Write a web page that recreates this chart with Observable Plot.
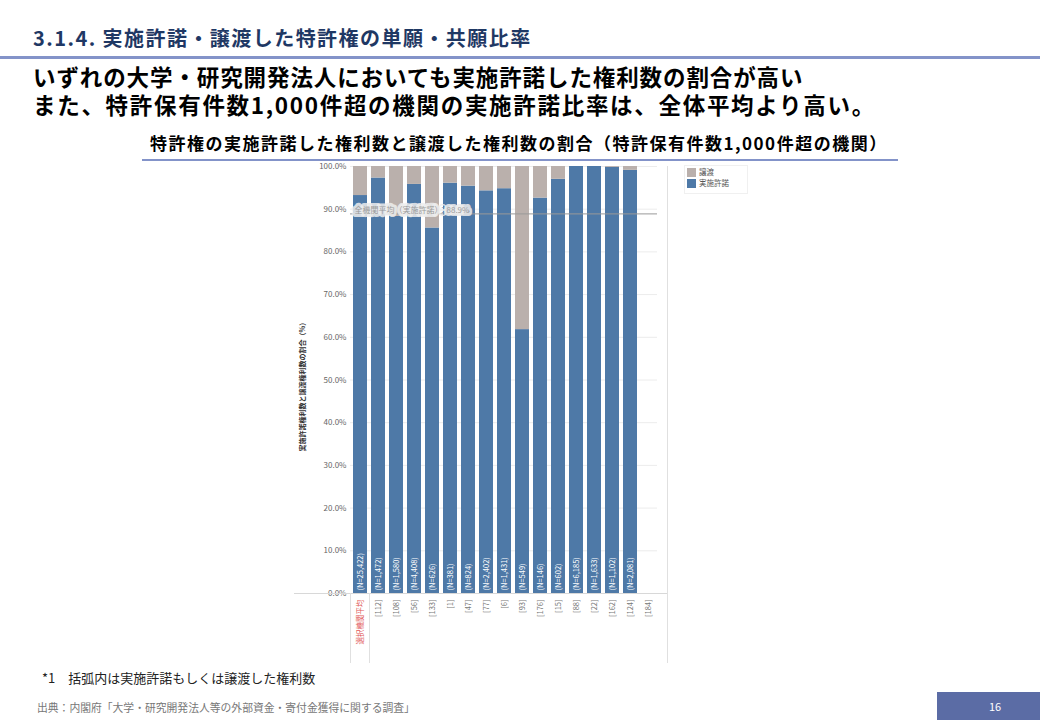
<!DOCTYPE html>
<html><head><meta charset="utf-8">
<script src="https://cdn.jsdelivr.net/npm/d3@7"></script>
<script src="https://cdn.jsdelivr.net/npm/@observablehq/plot@0.6"></script>
<style>
body{margin:0;background:#fff;font-family:"Noto Sans CJK JP","Noto Sans",sans-serif;}
#page{position:relative;width:1040px;height:720px;overflow:hidden;background:#fff;}
.abs{position:absolute;white-space:nowrap;}
#chart{position:absolute;left:290px;top:160px;}
#chart svg{overflow:visible;font-family:"Noto Sans CJK JP","Liberation Sans",sans-serif;}
</style></head>
<body><div id="page">
<div class="abs" style="left:33px;top:25px;font-size:20px;font-weight:bold;color:#1f3864;line-height:26px;letter-spacing:1.45px;">3.1.4. 実施許諾・譲渡した特許権の単願・共願比率</div>
<div class="abs" style="left:0;top:56px;width:1040px;height:3px;background:#8393c9;"></div>
<div class="abs" style="left:33px;top:63px;font-size:22.5px;font-weight:bold;color:#000;line-height:26px;letter-spacing:0.9px;">いずれの大学・研究開発法人においても実施許諾した権利数の割合が高い</div>
<div class="abs" style="left:33px;top:91px;font-size:22.5px;font-weight:bold;color:#000;line-height:26px;letter-spacing:1.7px;">また、特許保有件数1,000件超の機関の実施許諾比率は、全体平均より高い。</div>
<div class="abs" style="left:150px;top:130px;font-size:17px;font-weight:bold;color:#000;line-height:26px;letter-spacing:1.5px;">特許権の実施許諾した権利数と譲渡した権利数の割合（特許保有件数1,000件超の機関）</div>
<div class="abs" style="left:142px;top:159px;width:756px;height:2px;background:#8393c9;"></div>
<div id="chart"></div>
<div class="abs" style="left:294px;top:593px;width:373px;height:1px;background:#d8d8d8;"></div>
<div class="abs" style="left:350px;top:593px;width:1px;height:70px;background:#e0e0e0;"></div>
<div class="abs" style="left:369px;top:593px;width:1px;height:70px;background:#e0e0e0;"></div>
<div class="abs" style="left:667px;top:166px;width:1px;height:497px;background:#e0e0e0;"></div>
<div class="abs" style="left:684px;top:165px;width:62px;height:27px;border:1px solid #f0f0f0;"></div>
<div class="abs" style="left:687px;top:168px;width:9px;height:9px;background:#bab0ac;"></div>
<div class="abs" style="left:699px;top:165px;font-size:7.5px;color:#555;line-height:14px;">譲渡</div>
<div class="abs" style="left:687px;top:179px;width:9px;height:9px;background:#4e79a7;"></div>
<div class="abs" style="left:699px;top:176px;font-size:7.5px;color:#555;line-height:14px;">実施許諾</div>
<div class="abs" style="left:42px;top:669px;font-size:13px;color:#222;line-height:18px;">*1　括弧内は実施許諾もしくは譲渡した権利数</div>
<div class="abs" style="left:37px;top:699px;font-size:10.8px;color:#777;line-height:16px;">出典：内閣府「大学・研究開発法人等の外部資金・寄付金獲得に関する調査」</div>
<div class="abs" style="left:937px;top:692px;width:103px;height:28px;background:#5b6ca5;"></div>
<div class="abs" style="left:937px;top:692px;width:116px;height:28px;text-align:center;font-size:11px;color:#fff;line-height:28px;">16</div>
</div>
<script>
const categories = ["選択機関平均","[112]","[108]","[56]","[133]","[1]","[47]","[77]","[6]","[93]","[176]","[15]","[88]","[22]","[162]","[124]","[184]"];
const licensePct = [93.2, 97.3, 88.3, 95.8, 85.6, 96.1, 95.4, 94.3, 94.8, 61.8, 92.6, 97.0, 100, 100, 99.8, 99.1, null];
const nLabels = ["(N=25,422)","(N=1,472)","(N=1,580)","(N=4,408)","(N=626)","(N=381)","(N=824)","(N=2,402)","(N=1,431)","(N=549)","(N=146)","(N=602)","(N=6,185)","(N=1,633)","(N=1,102)","(N=2,081)",""];
const seriesNames = ["実施許諾","譲渡"];
const seriesColors = ["#4e79a7","#bab0ac"];
const yTicks = [0,10,20,30,40,50,60,70,80,90,100];
const allAverage = 88.9;
const refLabel = "全機関平均（実施許諾）：88.9%";
const yTitle = "実施許諾権利数と譲渡権利数の割合（%）";

const rows = [];
categories.forEach((c, i) => {
  if (licensePct[i] == null) return;
  rows.push({cat: c, series: seriesNames[0], value: licensePct[i]});
  rows.push({cat: c, series: seriesNames[1], value: +(100 - licensePct[i]).toFixed(1)});
});
const labelRows = categories.map((c, i) => ({cat: c, n: nLabels[i], idx: i}));

const chart = Plot.plot({
  width: 390, height: 505,
  marginLeft: 60, marginRight: 23, marginTop: 6, marginBottom: 72,
  style: {fontSize: "8px", color: "#666", background: "transparent"},
  x: {domain: categories, paddingInner: 0.25, paddingOuter: 0.15, axis: null},
  y: {domain: [0, 100], axis: null},
  color: {domain: seriesNames, range: seriesColors},
  marks: [
    Plot.gridY(yTicks, {stroke: "#ececec", strokeOpacity: 1}),
    Plot.axisY(yTicks, {tickSize: 0, tickPadding: 4, tickFormat: d => d.toFixed(1) + "%", fill: "#666", fontSize: 8, label: null}),
    Plot.barY(rows, {x: "cat", y: "value", fill: "series"}),
    Plot.ruleY([allAverage], {stroke: "#9a9a9a", strokeWidth: 1}),
    Plot.text([refLabel], {y: allAverage, frameAnchor: "left", dx: 4, dy: -3, textAnchor: "start", text: d => d, fill: "#9a9a9a", fontSize: 8, stroke: "#eeeeee", strokeWidth: 6, strokeOpacity: 0.85}),
    Plot.text(labelRows, {x: "cat", y: 0, text: "n", rotate: -90, textAnchor: "start", dy: -3, fill: "#fff", fontSize: 7.5}),
    Plot.text(labelRows, {x: "cat", y: 0, text: "cat", rotate: -90, textAnchor: "end", dy: 6, fill: d => d.idx === 0 ? "#e15759" : "#777", fontSize: 7.5}),
    Plot.text([yTitle], {frameAnchor: "left", dx: -48, dy: 5, rotate: -90, textAnchor: "middle", text: d => d, fill: "#333", fontSize: 7, fontWeight: "bold"})
  ]
});
document.getElementById("chart").appendChild(chart);
</script>
</body></html>
